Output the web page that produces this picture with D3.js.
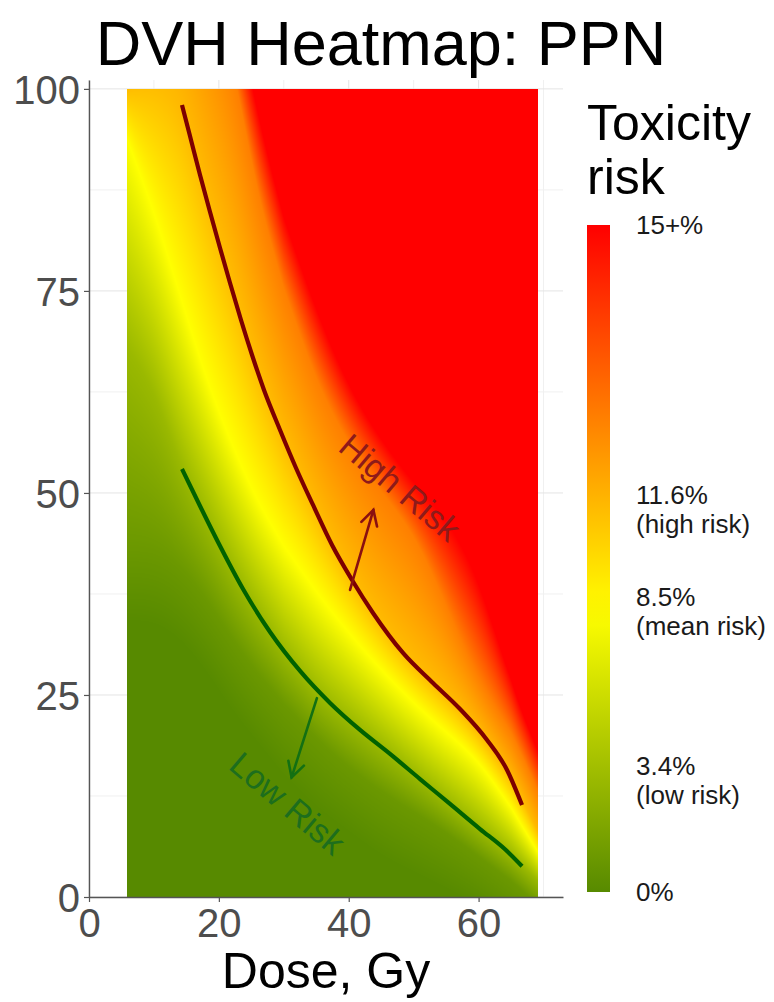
<!DOCTYPE html>
<html>
<head>
<meta charset="utf-8">
<script src="https://cdn.jsdelivr.net/npm/d3@7"></script>
<style>
  body { margin: 0; background: #fff; }
  svg { display: block; }
  text { font-family: "Liberation Sans", Arial, sans-serif; }
</style>
</head>
<body>
<svg id="chart" width="774" height="1002"></svg>
<script>
// ---- Data -------------------------------------------------------------
// Dose grid (Gy) on which the iso-risk contours of the map are tabulated
const doseGrid = [5.8, 10, 14, 18, 22, 26, 30, 35, 40, 45, 50, 55, 60, 65, 69.2];
// Toxicity risk (%) carried by each contour
const contourLevels = [0, 1, 3.4, 8.5, 11.6, 12.7, 15];
// Volume (%) where each contour crosses each grid dose
const volRisk0    = [34, 34, 32, 28, 23, 19, 15, 11, 8, 5, 3, 1, -1, -4, -7];
const volRisk1    = [43, 43, 41, 37, 32, 27.5, 24, 19.5, 16, 13, 10.5, 8, 5, 2, -1];
const volRisk3_4  = [68, 63, 53.5, 47.0, 40.6, 35.2, 30.6, 25.2, 21.9, 18.6, 15.3, 11.9, 8.6, 5.2, 2.0];
const volRisk8_5  = [94, 84.9, 74.6, 64.2, 56.0, 48.8, 43.6, 37.7, 32.7, 28.1, 24.0, 20.4, 17.0, 11.0, 5.5];
const volRisk11_6 = [100, 101, 98.5, 86.7, 76.5, 64.9, 56.7, 47.5, 39.9, 33.8, 28.8, 25.0, 20.6, 14.8, 8.0];
const volRisk12_7 = [103, 132, 126, 116, 104, 86.3, 75.5, 63.5, 56.0, 50.0, 45.2, 36.1, 26.6, 20.5, 13];
const volRisk15   = [116, 146, 138, 127, 113, 96.5, 84.0, 72.5, 63.0, 56.5, 51.2, 47.0, 39.8, 26.0, 18];

// High-risk (11.6 %) boundary line
const highRiskDose = [14.32, 15.71, 17.10, 18.64, 20.18, 21.72, 23.41, 25.11, 26.95, 29.42, 31.88, 34.50, 37.43, 40.51, 43.74, 48.36, 52.98, 57.14, 61.30, 64.38, 66.69];
const highRiskVol  = [98.01, 93.68, 89.35, 84.77, 80.31, 75.98, 71.40, 67.07, 62.74, 57.79, 53.09, 48.51, 43.56, 39.23, 35.15, 30.20, 26.48, 23.26, 19.43, 15.72, 11.38];
// Low-risk (3.4 %) boundary line
const lowRiskDose = [14.32, 17.10, 20.18, 23.72, 27.88, 32.50, 37.12, 41.74, 46.36, 50.98, 55.60, 60.22, 64.07, 66.69];
const lowRiskVol  = [52.96, 48.38, 43.43, 38.11, 32.79, 27.97, 24.01, 20.67, 17.70, 14.60, 11.51, 8.41, 5.9, 3.8];

// Arrows pointing into each zone (tail, tip)
const highArrowDose = [40.2, 43.8];
const highArrowVol  = [38.0, 47.9];
const lowArrowDose  = [35.1, 31.2];
const lowArrowVol   = [24.6, 14.8];

// Zone labels
const zoneLabels = ["High Risk", "Low Risk"];
const zoneDose   = [47.9, 30.6];
const zoneVol    = [50.7, 11.6];

// Axis ticks
const xTicks = [0, 20, 40, 60];
const xMinor = [10, 30, 50, 70];
const yTicks = [0, 25, 50, 75, 100];
const yMinor = [12.5, 37.5, 62.5, 87.5];

// Colour-bar labels
const legendValues = [15, 11.6, 8.5, 3.4, 0];
const legendText = [["15+%"], ["11.6%", "(high risk)"], ["8.5%", "(mean risk)"], ["3.4%", "(low risk)"], ["0%"]];

// ---- Scales -----------------------------------------------------------
const svg = d3.select("#chart");
const x = d3.scaleLinear().domain([0, 73]).range([89, 563]);
const y = d3.scaleLinear().domain([0, 101.1]).range([897, 80]);

// risk -> position along the colour bar, position -> colour
const legendPos = d3.scaleLinear().domain([0, 11.6, 15]).range([0, 0.574, 1]).clamp(true);
const colourAt = d3.scaleLinear().domain([0, 0.42, 1])
  .range(["#578a00", "#ffff00", "#ff0000"]).interpolate(d3.interpolateRgb).clamp(true);

// ---- Panel grid -------------------------------------------------------
const grid = svg.append("g");
grid.selectAll("line.ymin").data(yMinor).join("line")
  .attr("x1", x.range()[0]).attr("x2", x.range()[1])
  .attr("y1", d => y(d)).attr("y2", d => y(d))
  .attr("stroke", "#f0f0f0").attr("stroke-width", 1);
grid.selectAll("line.xmin").data(xMinor).join("line")
  .attr("y1", y.range()[0]).attr("y2", y.range()[1])
  .attr("x1", d => x(d)).attr("x2", d => x(d))
  .attr("stroke", "#f0f0f0").attr("stroke-width", 1);
grid.selectAll("line.ymaj").data(yTicks).join("line")
  .attr("x1", x.range()[0]).attr("x2", x.range()[1])
  .attr("y1", d => y(d)).attr("y2", d => y(d))
  .attr("stroke", "#e4e4e4").attr("stroke-width", 1);
grid.selectAll("line.xmaj").data(xTicks).join("line")
  .attr("y1", y.range()[0]).attr("y2", y.range()[1])
  .attr("x1", d => x(d)).attr("x2", d => x(d))
  .attr("stroke", "#e4e4e4").attr("stroke-width", 1);

// ---- Heat map raster --------------------------------------------------
const contourVols = [volRisk0, volRisk1, volRisk3_4, volRisk8_5, volRisk11_6, volRisk12_7, volRisk15];
const gridIndex = d3.scaleLinear().domain(doseGrid).range(d3.range(doseGrid.length).map(i => i / (doseGrid.length - 1)));
const contourAt = contourVols.map(v => d3.interpolateBasis(v));

const px0 = Math.round(x(doseGrid[0])), px1 = Math.round(x(doseGrid[doseGrid.length - 1]));
const py0 = Math.round(y(100)), py1 = Math.round(y(0));
const cw = px1 - px0, ch = py1 - py0;
const canvas = document.createElement("canvas");
canvas.width = cw; canvas.height = ch;
const ctx = canvas.getContext("2d");
const img = ctx.createImageData(cw, ch);

const lut = d3.range(1025).map(i => d3.rgb(colourAt(i / 1024)));
for (let i = 0; i < cw; i++) {
  const t = gridIndex(x.invert(px0 + i + 0.5));
  const vols = contourAt.map(f => f(t));
  const riskAt = d3.scaleLinear().domain(vols).range(contourLevels).clamp(true);
  for (let j = 0; j < ch; j++) {
    const v = y.invert(py0 + j + 0.5);
    const c = lut[Math.round(legendPos(riskAt(v)) * 1024)];
    const k = 4 * (j * cw + i);
    img.data[k] = c.r; img.data[k + 1] = c.g; img.data[k + 2] = c.b; img.data[k + 3] = 255;
  }
}
ctx.putImageData(img, 0, 0);
svg.append("image")
  .attr("href", canvas.toDataURL())
  .attr("x", px0).attr("y", py0).attr("width", cw).attr("height", ch)
  .attr("preserveAspectRatio", "none");

// ---- Risk boundary lines ------------------------------------------------
const line = d3.line().x(d => x(d[0])).y(d => y(d[1])).curve(d3.curveMonotoneX);
svg.append("path")
  .datum(highRiskDose.map((d, i) => [d, highRiskVol[i]]))
  .attr("d", line).attr("fill", "none").attr("stroke", "#7d0000").attr("stroke-width", 4.2);
svg.append("path")
  .datum(lowRiskDose.map((d, i) => [d, lowRiskVol[i]]))
  .attr("d", line).attr("fill", "none").attr("stroke", "#006200").attr("stroke-width", 4.2);

// ---- Arrows -----------------------------------------------------------
function arrow(doses, vols, colour) {
  const xa = x(doses[0]), ya = y(vols[0]), xb = x(doses[1]), yb = y(vols[1]);
  const ang = Math.atan2(yb - ya, xb - xa);
  const len = 17, spread = 0.5;
  const g = svg.append("g").attr("stroke", colour).attr("stroke-width", 2.6)
    .attr("fill", "none").attr("stroke-linecap", "round");
  g.append("line").attr("x1", xa).attr("y1", ya).attr("x2", xb).attr("y2", yb);
  g.append("polyline").attr("points", [
    [xb - len * Math.cos(ang - spread), yb - len * Math.sin(ang - spread)],
    [xb, yb],
    [xb - len * Math.cos(ang + spread), yb - len * Math.sin(ang + spread)]
  ].map(p => p.join(",")).join(" "));
}
arrow(highArrowDose, highArrowVol, "#8a1010");
arrow(lowArrowDose, lowArrowVol, "#137013");

// ---- Zone labels --------------------------------------------------------
const zoneColours = ["#8e1a1a", "#1d6e1d"];
svg.selectAll("text.zone").data(zoneLabels).join("text")
  .attr("transform", (d, i) => `translate(${x(zoneDose[i])},${y(zoneVol[i])}) rotate(40)`)
  .attr("text-anchor", "middle").attr("dy", "0.35em")
  .attr("font-size", 34).attr("fill", (d, i) => zoneColours[i])
  .text(d => d);

// ---- Axes -------------------------------------------------------------
const axisColour = "#555555";
const gx = svg.append("g").attr("transform", `translate(0,${y(0)})`)
  .call(d3.axisBottom(x).tickValues(xTicks).tickSize(5).tickSizeOuter(0).tickPadding(4));
const gy = svg.append("g").attr("transform", `translate(${x(0)},0)`)
  .call(d3.axisLeft(y).tickValues(yTicks).tickSize(5).tickSizeOuter(0).tickPadding(4));
[gx, gy].forEach(g => {
  g.select(".domain").attr("stroke", axisColour).attr("stroke-width", 1.4);
  g.selectAll(".tick line").attr("stroke", axisColour).attr("stroke-width", 1.2);
  g.selectAll(".tick text").attr("font-size", 40).attr("fill", "#4d4d4d")
    .attr("font-family", "Liberation Sans, Arial, sans-serif");
});
gx.selectAll(".tick text").attr("dy", "0.78em");
gy.selectAll(".tick text").attr("dy", "0.36em");

// ---- Titles -------------------------------------------------------------
svg.append("text").attr("x", 381).attr("y", 65).attr("text-anchor", "middle")
  .attr("font-size", 63).attr("fill", "#000").text("DVH Heatmap: PPN");
svg.append("text").attr("x", (x.range()[0] + x.range()[1]) / 2).attr("y", 988)
  .attr("text-anchor", "middle").attr("font-size", 50).attr("fill", "#000").text("Dose, Gy");

// ---- Colour bar legend ------------------------------------------------
const barX = 587, barW = 23;
const barY = d3.scaleLinear().domain([0, 1]).range([892, 225]);
const defs = svg.append("defs");
const grad = defs.append("linearGradient").attr("id", "riskbar")
  .attr("x1", 0).attr("y1", 1).attr("x2", 0).attr("y2", 0);
grad.selectAll("stop").data(d3.range(0, 1.0001, 0.05)).join("stop")
  .attr("offset", d => d).attr("stop-color", d => colourAt(d));
svg.append("rect").attr("x", barX).attr("y", barY(1)).attr("width", barW)
  .attr("height", barY(0) - barY(1)).attr("fill", "url(#riskbar)");

svg.append("text").attr("x", 587).attr("y", 140).attr("font-size", 50).attr("fill", "#000").text("Toxicity");
svg.append("text").attr("x", 587).attr("y", 194).attr("font-size", 50).attr("fill", "#000").text("risk");

const pitch = 29, cap = 18.5;
const lg = svg.append("g").attr("font-size", 26).attr("fill", "#1a1a1a");
legendValues.forEach((v, i) => {
  const lines = legendText[i];
  const centre = barY(legendPos(v));
  const first = centre - (lines.length - 1) * pitch / 2 + cap / 2;
  lines.forEach((s, k) => {
    lg.append("text").attr("x", 636).attr("y", first + k * pitch).text(s);
  });
});
</script>
</body>
</html>
